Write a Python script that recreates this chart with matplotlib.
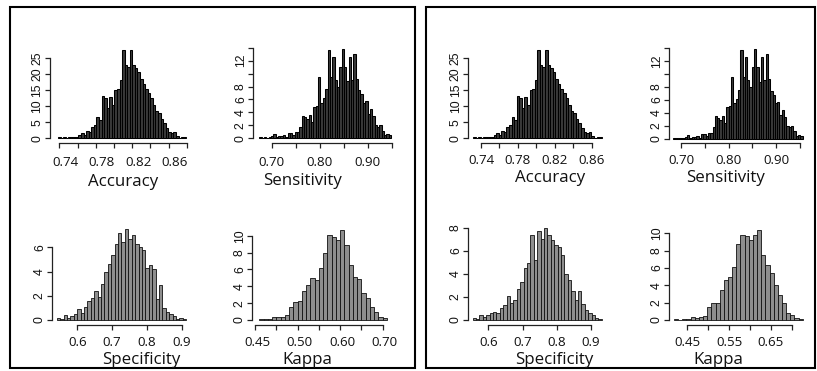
import numpy as np
import matplotlib
matplotlib.use("Agg")
import matplotlib.pyplot as plt
from matplotlib.patches import Rectangle
from matplotlib.transforms import ScaledTranslation

W, H, DPI = 817, 371, 100

# ---- histogram bar heights (density) ----
acc_heights = [0.3, 0.2, 0.3, 0.1, 0.3, 0.3, 0.5, 0.5, 1.0, 1.6,
               1.0, 2.4, 2.0, 3.6, 4.0, 6.5, 5.8, 13.2, 12.6, 9.5,
               12.8, 10.5, 15.0, 15.3, 18.3, 27.5, 23.0, 22.3, 27.5, 22.8,
               22.0, 20.8, 18.5, 17.0, 15.5, 14.0, 12.5, 10.5, 8.5, 7.8,
               6.0, 4.8, 3.2, 2.0, 1.5, 2.0, 0.6, 0.2, 0.5, 0.3]

sens_heights = [0.2, 0.1, 0.2, 0.1, 0.2, 0.3, 0.6, 0.2, 0.3, 0.3,
                0.5, 0.2, 0.8, 0.8, 0.5, 0.9, 0.9, 1.8, 3.5, 3.3,
                3.0, 3.6, 2.5, 4.9, 5.0, 9.5, 5.5, 6.2, 7.6, 13.7,
                9.5, 12.6, 9.0, 8.0, 11.0, 13.8, 11.0, 8.8, 12.6, 9.0,
                13.0, 9.2, 7.4, 6.8, 5.5, 5.7, 3.7, 4.5, 3.4, 2.0,
                1.8, 2.0, 1.2, 0.5, 0.6, 0.5]

spec_left_heights = [0.2, 0.1, 0.4, 0.2, 0.3, 0.5, 0.9, 0.6, 1.1, 1.6,
                     1.8, 2.4, 1.9, 3.0, 4.0, 4.6, 5.4, 6.3, 7.2, 6.4,
                     7.5, 6.7, 7.0, 6.3, 6.0, 5.8, 4.3, 4.5, 4.2, 1.7,
                     2.9, 1.0, 0.7, 0.5, 0.3, 0.1, 0.2, 0.1]

kappa_left_heights = [0.1, 0.1, 0.15, 0.3, 0.3, 0.35, 0.6, 1.5, 2.1, 2.2,
                      3.4, 4.2, 5.0, 4.8, 6.2, 8.0, 10.1, 9.8, 9.5, 10.7,
                      8.9, 6.5, 5.1, 4.9, 3.2, 2.6, 1.5, 1.0, 0.4, 0.2]

spec_right_heights = [0.2, 0.1, 0.4, 0.3, 0.4, 0.6, 0.7, 0.6, 1.0, 1.3,
                      2.1, 1.5, 1.7, 2.7, 3.3, 4.5, 4.9, 7.4, 5.2, 7.7,
                      7.0, 8.0, 7.4, 6.9, 6.5, 6.3, 5.6, 4.0, 3.5, 2.5,
                      1.7, 2.5, 1.4, 0.9, 0.6, 0.4, 0.2, 0.1]

kappa_right_heights = [0.1, 0.05, 0.1, 0.1, 0.3, 0.2, 0.3, 0.5, 1.5, 2.0,
                       2.0, 3.5, 4.6, 5.0, 6.1, 8.8, 9.8, 9.7, 9.2, 9.8,
                       10.4, 7.5, 6.3, 5.4, 4.0, 2.9, 2.0, 0.8, 0.6, 0.2, 0.1]

# ---- bin layout: (first edge, bin width) ----
acc_bins_left = (0.7385, 0.00282)
acc_bins_right = (0.7313, 0.00279)
sens_bins_left = (0.6742, 0.0049)
sens_bins_right = (0.6838, 0.00485)
spec_bins_left = (0.5408, 0.0098)
kappa_bins_left = (0.41, 0.01)
spec_bins_right = (0.5544, 0.00992)
kappa_bins_right = (0.4181, 0.00995)

# ---- tick values and labels ----
acc_xticks_left = [0.74, 0.76, 0.78, 0.80, 0.82, 0.84, 0.86, 0.88]
acc_xticks_right = [0.74, 0.76, 0.78, 0.80, 0.82, 0.84, 0.86]
acc_xlabels = {0.74: "0.74", 0.78: "0.78", 0.82: "0.82", 0.86: "0.86"}
acc_yticks = [0, 5, 10, 15, 20, 25]
acc_ylabels = {v: str(v) for v in acc_yticks}

sens_xticks = [0.70, 0.75, 0.80, 0.85, 0.90, 0.95]
sens_xlabels = {0.70: "0.70", 0.80: "0.80", 0.90: "0.90"}
sens_yticks = [0, 2, 4, 6, 8, 10, 12, 14]
sens_ylabels = {0: "0", 2: "2", 4: "4", 6: "6", 8: "8", 12: "12"}

spec_xticks = [0.6, 0.7, 0.8, 0.9]
spec_xlabels = {0.6: "0.6", 0.7: "0.7", 0.8: "0.8", 0.9: "0.9"}
spec_yticks_left = [0, 2, 4, 6]
spec_yticks_right = [0, 2, 4, 6, 8]

kappa_xticks_left = [0.40, 0.45, 0.50, 0.55, 0.60, 0.65, 0.70]
kappa_xlabels_left = {0.40: "0.45", 0.50: "0.50", 0.60: "0.60", 0.70: "0.70"}
kappa_xticks_right = [0.45, 0.50, 0.55, 0.60, 0.65, 0.70]
kappa_xlabels_right = {0.45: "0.45", 0.55: "0.55", 0.65: "0.65"}
kappa_yticks = [0, 2, 4, 6, 8, 10]

fig = plt.figure(figsize=(W / DPI, H / DPI), dpi=DPI)
fig.patch.set_facecolor("white")

TICK_FONT = "Open Sans"
YTICK_FONT = "Liberation Sans"
LABEL_FONT = "Open Sans"

DENSE = dict(color="#3a3a3a", edgecolor="black", linewidth=0.75)
WIDE = dict(color="#8e8e8e", edgecolor="#111111", linewidth=0.6)


def add_hist(heights, bins, cal, xhi, yhi, xticks, xlabels, yticks, ylabels,
             label, label_xy, xpad, style, xdx=0.0):
    """cal = (xv0, xp0, xv1, xp1, y0_px, yv1, yv1_px, yaxis_px, xaxis_px)"""
    xv0, xp0, xv1, xp1, y0p, yv1, y1p, yaxis_px, xaxis_px = cal
    sx = (xp1 - xp0) / (xv1 - xv0)
    sy = (y0p - y1p) / yv1
    xlo = xv0 - (xp0 - yaxis_px) / sx
    ylo = -(xaxis_px - y0p) / sy
    left = yaxis_px
    right = xp0 + (xhi - xv0) * sx
    top = y0p - yhi * sy
    bottom = xaxis_px
    ax = fig.add_axes([left / W, 1 - bottom / H, (right - left) / W, (bottom - top) / H])
    ax.set_xlim(xlo, xhi)
    ax.set_ylim(ylo, yhi)
    ax.patch.set_alpha(0)

    first, width = bins
    edges = first + width * np.arange(len(heights))
    ax.bar(edges, heights, width=width, align="edge", **style)

    for s in ("top", "right"):
        ax.spines[s].set_visible(False)
    for s in ("left", "bottom"):
        ax.spines[s].set_linewidth(0.9)
        ax.spines[s].set_color("#222222")
    ax.spines["left"].set_bounds(yticks[0], yticks[-1])
    ax.spines["bottom"].set_bounds(xticks[0], xticks[-1])

    ax.set_xticks(xticks)
    ax.set_xticklabels([xlabels.get(round(t, 2), "") for t in xticks])
    ax.set_yticks(yticks)
    ax.set_yticklabels([ylabels.get(t, "") for t in yticks])
    ax.tick_params(axis="both", direction="out", length=3.6, width=0.9, colors="#222222")
    ax.tick_params(axis="x", pad=xpad, labelsize=9.6, labelcolor="#111111")
    ax.tick_params(axis="y", pad=1.0, labelsize=8.8, labelcolor="#111111")
    for t in ax.get_xticklabels():
        t.set_fontfamily(TICK_FONT)
        if xdx:
            t.set_transform(t.get_transform() + ScaledTranslation(xdx / DPI, 0, fig.dpi_scale_trans))
    for t in ax.get_yticklabels():
        t.set_fontfamily(YTICK_FONT)
        t.set_rotation(90)
        t.set_va("center")

    fig.text(label_xy[0] / W, 1 - label_xy[1] / H, label, ha="center", va="baseline",
             fontsize=12.2, family=LABEL_FONT, color="#111111")
    return ax


# left panel
add_hist(acc_heights, acc_bins_left,
         (0.74, 59.3, 0.88, 186.7, 138.3, 25, 58.3, 50.0, 143.0), 0.89, 28.6,
         acc_xticks_left, acc_xlabels, acc_yticks, acc_ylabels,
         "Accuracy", (123, 185.5), 6.0, DENSE, xdx=6)
add_hist(sens_heights, sens_bins_left,
         (0.70, 271.7, 0.90, 367.7, 138.3, 12, 60.7, 253.3, 143.0), 0.955, 14.6,
         sens_xticks, sens_xlabels, sens_yticks, sens_ylabels,
         "Sensitivity", (302.5, 185.0), 6.0, DENSE)
add_hist(spec_left_heights, spec_bins_left,
         (0.6, 77.3, 0.9, 181.7, 320.0, 6, 247.3, 52.3, 325.0), 0.93, 7.8,
         spec_xticks, spec_xlabels, spec_yticks_left, {v: str(v) for v in spec_yticks_left},
         "Specificity", (141.3, 363.5), 4.2, WIDE)
add_hist(kappa_left_heights, kappa_bins_left,
         (0.40, 255.0, 0.70, 382.7, 320.0, 10, 235.7, 252.3, 325.0), 0.72, 11.2,
         kappa_xticks_left, kappa_xlabels_left, kappa_yticks, {v: str(v) for v in kappa_yticks},
         "Kappa", (307.3, 363.5), 4.2, WIDE, xdx=2)

# right panel
add_hist(acc_heights, acc_bins_right,
         (0.74, 481.0, 0.86, 591.7, 138.3, 25, 58.3, 468.3, 143.0), 0.875, 28.6,
         acc_xticks_right, acc_xlabels, acc_yticks, acc_ylabels,
         "Accuracy", (550, 182.5), 4.2, DENSE)
add_hist(sens_heights, sens_bins_right,
         (0.70, 681.0, 0.95, 800.0, 139.0, 12, 61.0, 669.3, 143.3), 0.965, 14.6,
         sens_xticks, sens_xlabels, sens_yticks, sens_ylabels,
         "Sensitivity", (726, 182.5), 4.2, DENSE)
add_hist(spec_right_heights, spec_bins_right,
         (0.6, 488.3, 0.9, 591.0, 320.0, 8, 227.7, 468.3, 325.0), 0.94, 8.4,
         spec_xticks, spec_xlabels, spec_yticks_right, {v: str(v) for v in spec_yticks_right},
         "Specificity", (554, 363.5), 4.2, WIDE)
add_hist(kappa_right_heights, kappa_bins_right,
         (0.45, 687.3, 0.70, 791.7, 320.0, 10, 233.3, 669.3, 325.0), 0.735, 11.0,
         kappa_xticks_right, kappa_xlabels_right, kappa_yticks, {v: str(v) for v in kappa_yticks},
         "Kappa", (718.3, 363.5), 4.2, WIDE)

# frames around the two groups
for x0, x1 in ((10.0, 414.5), (425.5, 814.5)):
    fig.add_artist(Rectangle((x0 / W, 1 - 368.0 / H), (x1 - x0) / W, (368.0 - 7.0) / H,
                             transform=fig.transFigure, fill=False, lw=1.5, ec="black"))

fig.savefig("out.png", dpi=DPI, facecolor="white")
